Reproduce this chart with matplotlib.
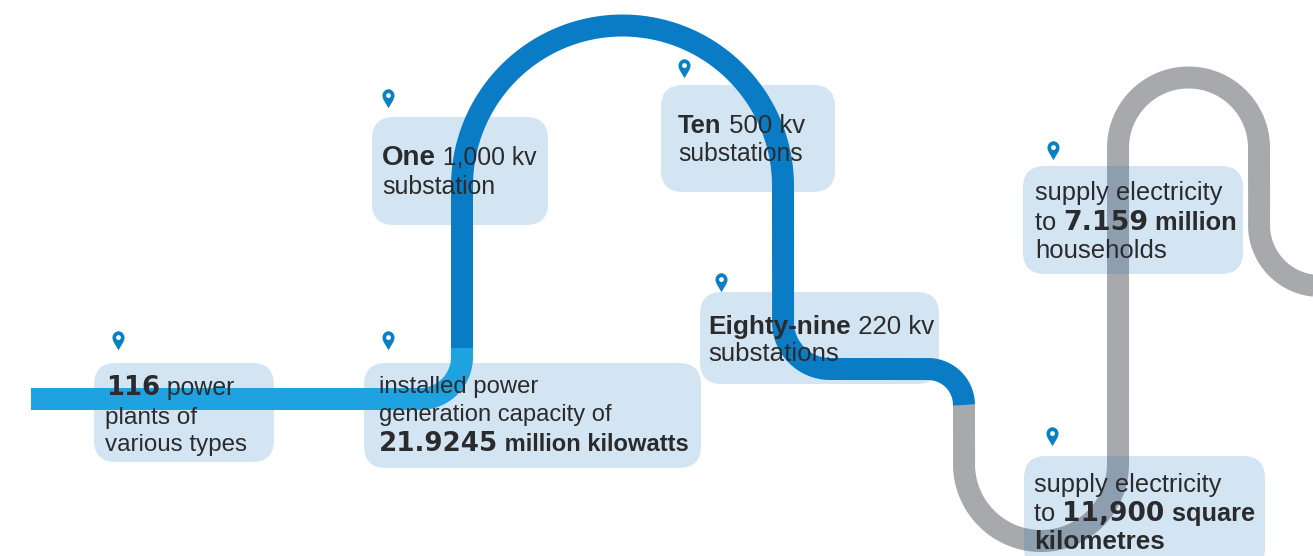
import numpy as np
import matplotlib
matplotlib.use('Agg')
import matplotlib.pyplot as plt
from matplotlib.path import Path
from matplotlib.patches import FancyBboxPatch

plt.rcParams['font.family'] = ['Liberation Sans', 'DejaVu Sans']

LIGHT = '#1fa3e0'
DARK = '#0a7cc6'
GRAY = '#a7a9ac'
GRAY_ON_BOX = '#8d9fae'
BOX = '#d3e5f3'
INK = '#2b2b2d'
PIN = '#0a80c4'
WIDE = 'DejaVu Sans'  # the big numbers are wide in the reference
SANS = 'Liberation Sans'

# rounded boxes: x0, y0, x1, y1 in image pixels
boxes = [(94, 363, 274, 462), (364, 363, 701, 468), (372, 117, 548, 225),
         (661, 85, 835, 192), (700, 292, 939, 384), (1023, 166, 1243, 274),
         (1024, 456, 1265, 570)]
pins_x = [118, 388, 388, 684, 721, 1053, 1052]
pins_y = [340, 340, 98, 68, 282, 150, 436]

# text lines: runs of (text, family, weight, size)
lines = [
    [('116', WIDE, 'bold', 18.6), (' power', SANS, 'normal', 17.9)],
    [('plants of', SANS, 'normal', 17.6)],
    [('various types', SANS, 'normal', 17.4)],
    [('installed power', SANS, 'normal', 17.2)],
    [('generation capacity of', SANS, 'normal', 17.1)],
    [('21.9245', WIDE, 'bold', 18.8), (' million kilowatts', SANS, 'bold', 17.1)],
    [('One', SANS, 'bold', 20.0), (' 1,000 kv', SANS, 'normal', 17.8)],
    [('substation', SANS, 'normal', 17.9)],
    [('Ten', SANS, 'bold', 18.4), (' 500 kv', SANS, 'normal', 18.5)],
    [('substations', SANS, 'normal', 17.7)],
    [('Eighty-nine', SANS, 'bold', 18.8), (' 220 kv', SANS, 'normal', 18.6)],
    [('substations', SANS, 'normal', 18.6)],
    [('supply electricity', SANS, 'normal', 18.4)],
    [('to ', SANS, 'normal', 18.4), ('7.159', WIDE, 'bold', 19.4), (' million', SANS, 'bold', 18.3)],
    [('households', SANS, 'normal', 18.5)],
    [('supply electricity', SANS, 'normal', 18.4)],
    [('to ', SANS, 'normal', 18.4), ('11,900', WIDE, 'bold', 19.0), (' square', SANS, 'bold', 18.3)],
    [('kilometres', SANS, 'bold', 18.8)],
]
lines_x = [106, 105, 105, 379, 379, 379, 382, 382, 678, 678, 708, 708,
           1035, 1035, 1035, 1034, 1034, 1034]
lines_y = [395, 424, 451, 393, 421, 451, 165, 194, 133, 161, 334, 361,
           200, 230, 258, 492, 521, 549]


def arc(cx, cy, r, a0, a1):
    # y axis points down, so angles are flipped to read as on screen
    a = np.radians(np.linspace(a0, a1, 80))
    return np.column_stack([cx + r * np.cos(a), cy - r * np.sin(a)])


light_path = np.vstack([[(31, 399)], arc(420, 357, 42, -90, 0), [(462, 348)]])
dark_path = np.vstack([[(462, 348)], arc(622.5, 186, 160.5, 180, 0),
                       arc(830, 322, 47, 180, 270), arc(928, 405, 36, 90, 0)])
gray_path = np.vstack([[(964, 405)], arc(1041, 464, 77, 180, 360),
                       arc(1188.5, 148, 70.5, 180, 0),
                       arc(1320, 225, 61, 180, 270)])

fig = plt.figure(figsize=(13.13, 5.56), dpi=100)
ax = fig.add_axes([0, 0, 1, 1])
ax.set_xlim(0, 1313)
ax.set_ylim(556, 0)
ax.axis('off')

lw = 22 * 72 / 100
line_style = dict(lw=lw, solid_capstyle='butt', solid_joinstyle='round')
ax.plot(gray_path[:, 0], gray_path[:, 1], color=GRAY, zorder=1, **line_style)
ax.plot(dark_path[:, 0], dark_path[:, 1], color=DARK, zorder=3, **line_style)
ax.plot(light_path[:, 0], light_path[:, 1], color=LIGHT, zorder=3, **line_style)

for x0, y0, x1, y1 in boxes:
    r = 22
    patch = FancyBboxPatch((x0 + r, y0 + r), x1 - x0 - 2 * r, y1 - y0 - 2 * r,
                           boxstyle='round,pad=%d,rounding_size=%d' % (r, r),
                           fc=BOX, ec='none', zorder=2)
    ax.add_patch(patch)
    # the gray line shows through the boxes
    over, = ax.plot(gray_path[:, 0], gray_path[:, 1], color=GRAY_ON_BOX,
                    zorder=2.5, **line_style)
    over.set_clip_path(patch)

# map pin: teardrop with a hole
pin = Path(
    [(0, -1), (-0.3, -0.45), (-0.62, -0.1), (-0.62, 0.3), (-0.62, 0.65), (-0.33, 0.95), (0, 0.95),
     (0.33, 0.95), (0.62, 0.65), (0.62, 0.3), (0.62, -0.1), (0.3, -0.45), (0, -1),
     (0, 0.55), (-0.14, 0.55), (-0.25, 0.44), (-0.25, 0.3), (-0.25, 0.16), (-0.14, 0.05), (0, 0.05),
     (0.14, 0.05), (0.25, 0.16), (0.25, 0.3), (0.25, 0.44), (0.14, 0.55), (0, 0.55)],
    [Path.MOVETO] + [Path.CURVE4] * 12
    + [Path.MOVETO] + [Path.CURVE4] * 12)
ax.plot(pins_x, pins_y, ls='none', marker=pin, ms=14, mfc=PIN, mec='none', zorder=4)

fig.canvas.draw()
renderer = fig.canvas.get_renderer()
for x, y, runs in zip(lines_x, lines_y, lines):
    for s, family, weight, size in runs:
        t = ax.text(x, y, s, color=INK, ha='left', va='baseline', zorder=5,
                    family=family, fontweight=weight, fontsize=size)
        x += t.get_window_extent(renderer).width

fig.savefig('out.png', dpi=100)
